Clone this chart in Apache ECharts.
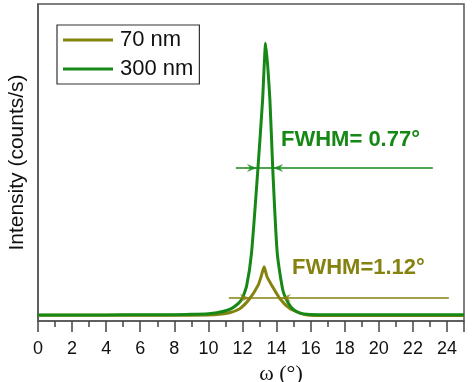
<!DOCTYPE html>
<html><head><meta charset="utf-8">
<script src="https://cdn.jsdelivr.net/npm/echarts@6/dist/echarts.min.js"></script>
<style>html,body{margin:0;padding:0;background:#fff}#c{width:474px;height:382px}</style>
</head><body><div id="c"></div>
<script>
// omega (deg), intensity (arbitrary, 0-100 scale)
const omega300 = [0, 2, 4, 6, 8, 9, 10, 10.5, 11.07, 11.5, 11.95, 12.24, 12.53, 12.9, 13.18, 13.36, 13.61, 13.78, 14.04, 14.37, 14.7, 15.0, 15.37, 15.8, 16.5, 18, 20, 22, 25];
const int300   = [1.9, 1.9, 1.9, 2.0, 2.0, 2.1, 2.3, 2.6, 3.3, 4.4, 6.8, 11.0, 21.4, 47.6, 69.7, 87.6, 69.7, 47.6, 21.4, 9.7, 5.5, 3.6, 2.5, 2.1, 2.0, 2.0, 2.0, 2.0, 2.0];
const omega70  = [0, 4, 8, 10, 10.67, 11.3, 11.85, 12.43, 12.92, 13.1, 13.27, 13.43, 13.71, 14.19, 14.78, 15.4, 15.95, 18, 22, 25];
const int70    = [1.8, 1.8, 1.8, 1.9, 2.1, 2.7, 3.9, 7.1, 11.3, 14.1, 17.1, 14.1, 11.3, 7.1, 3.9, 2.5, 1.8, 1.7, 1.7, 1.7];
const seriesNames = ['70 nm', '300 nm'];
const fwhm300Line = [[11.61, 48.3], [23.17, 48.3]];
const fwhm300Arrows = [[12.85, 48.3, 'r'], [13.8, 48.3, 'l']];
const fwhm70Line = [[11.2, 7.26], [24.11, 7.26]];
const fwhm70Arrows = [[12.43, 7.26, 'r'], [14.25, 7.26, 'l']];
const fwhmLabels = ['FWHM= 0.77°', 'FWHM=1.12°'];
const xTicks = [0, 2, 4, 6, 8, 10, 12, 14, 16, 18, 20, 22, 24];

const GREEN = '#168816', OLIVE = '#858210';
const zip = (a, b) => a.map((v, i) => [v, b[i]]);
const arrowPath = 'path://M0,0 L10,5 L0,10 L3,5 Z';
const arrowSeries = (arr, color) => ({
  type: 'scatter', silent: true, z: 5, itemStyle: { color },
  data: arr.map(d => ({ value: [d[0], d[1]], symbol: arrowPath, symbolSize: [10, 8],
    symbolRotate: d[2] === 'r' ? 0 : 180,
    symbolOffset: d[2] === 'r' ? [-5, 0] : [5, 0] }))
});

const chart = echarts.init(document.getElementById('c'));
chart.setOption({
  animation: false,
  backgroundColor: '#fff',
  grid: { left: 38, right: 10, top: 4, bottom: 61, show: true, borderColor: '#555', borderWidth: 1.5,
    containLabel: false, outerBoundsMode: 'none' },
  legend: {
    left: 57, top: 25, orient: 'vertical', data: seriesNames,
    borderColor: '#333', borderWidth: 1.2, padding: [4, 6, 4, 6], itemGap: 7,
    icon: 'rect', itemWidth: 50, itemHeight: 3,
    textStyle: { fontFamily: 'Liberation Sans, Arial', fontSize: 22, color: '#111', padding: [0, 0, 0, 2] }
  },
  xAxis: {
    type: 'value', min: 0, max: 25, interval: 2,
    name: 'ω (°)', nameLocation: 'middle', nameGap: 36,
    nameTextStyle: { fontFamily: 'Liberation Serif, Times New Roman', fontSize: 22, color: '#111', padding: [0, 0, 0, 60] },
    axisLine: { lineStyle: { color: '#555', width: 1.5 } },
    axisTick: { inside: false, length: 11, lineStyle: { color: '#444', width: 1.5 } },
    minorTick: { show: true, splitNumber: 2, length: 6, lineStyle: { color: '#444', width: 1.5 } },
    axisLabel: { fontFamily: 'Liberation Sans, Arial', fontSize: 18, color: '#111', margin: 19,
      formatter: v => xTicks.includes(v) ? String(v) : '' },
    splitLine: { show: false }
  },
  yAxis: {
    type: 'value', min: 0, max: 100,
    name: 'Intensity (counts/s)', nameLocation: 'middle', nameGap: 10,
    nameTextStyle: { fontFamily: 'Liberation Sans, Arial', fontSize: 21, color: '#111' },
    axisLine: { show: true, lineStyle: { color: '#555', width: 1.5 } },
    axisTick: { show: false }, axisLabel: { show: false }, splitLine: { show: false }
  },
  series: [
    { name: seriesNames[0], type: 'line', data: zip(omega70, int70), symbol: 'none', smooth: 0.2,
      lineStyle: { color: OLIVE, width: 3 }, itemStyle: { color: OLIVE }, z: 2 },
    { name: seriesNames[1], type: 'line', data: zip(omega300, int300), symbol: 'none', smooth: 0.2,
      lineStyle: { color: GREEN, width: 3 }, itemStyle: { color: GREEN }, z: 3 },
    { type: 'line', data: fwhm300Line, symbol: 'none', lineStyle: { color: GREEN, width: 1.5 }, z: 4, silent: true },
    { type: 'line', data: fwhm70Line, symbol: 'none', lineStyle: { color: OLIVE, width: 1.5 }, z: 4, silent: true },
    arrowSeries(fwhm300Arrows, GREEN),
    arrowSeries(fwhm70Arrows, OLIVE)
  ],
  graphic: [
    { type: 'text', left: 281, top: 129, style: { text: fwhmLabels[0], fill: GREEN, font: 'bold 22px "Liberation Sans", Arial' } },
    { type: 'text', left: 292, top: 257, style: { text: fwhmLabels[1], fill: OLIVE, font: 'bold 22px "Liberation Sans", Arial' } }
  ]
});
</script></body></html>
